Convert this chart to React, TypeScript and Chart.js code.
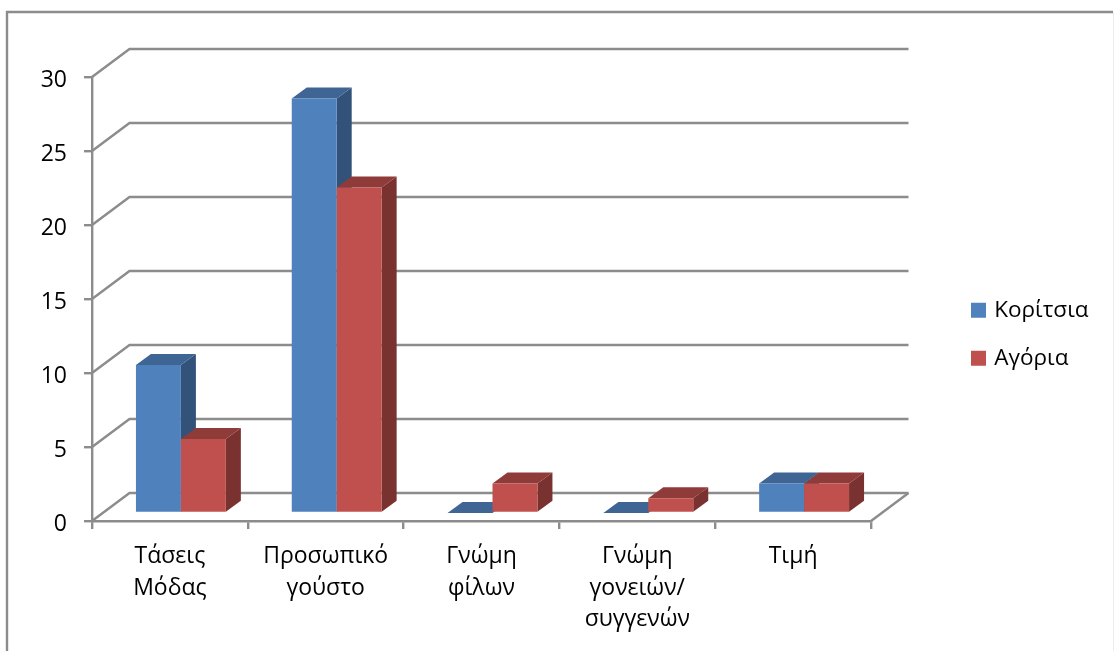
import React, { useEffect, useRef } from "react";
import { Chart, registerables } from "chart.js";

Chart.register(...registerables);

const categories = [["Τάσεις", "Μόδας"], ["Προσωπικό", "γούστο"], ["Γνώμη", "φίλων"], ["Γνώμη", "γονειών/", "συγγενών"], ["Τιμή"]];
const girls = [10, 28, 0, 0, 2];
const boys = [5, 22, 2, 1, 2];
const yTicks = { min: 0, max: 30, step: 5 };

const GRID = "#8c8c8c";
const LINE = 2.4;
const FONT = "'Open Sans', 'Noto Sans', sans-serif";
const WALL = { dx: 37.5, dy: -28 };
const BAR_SHIFT = { dx: 11, dy: -8 };
const BAR_DEPTH = { dx: 15, dy: -11 };
const FACES = [
  { side: "#325279", top: "#3e6594" },
  { side: "#7a3230", top: "#8f3b39" },
];

const poly = (ctx: CanvasRenderingContext2D, pts: number[][], fill: string) => {
  ctx.beginPath();
  pts.forEach(([x, y], i) => (i ? ctx.lineTo(x, y) : ctx.moveTo(x, y)));
  ctx.closePath();
  ctx.fillStyle = fill;
  ctx.fill();
};

const threeD = {
  id: "threeD",
  beforeDraw(chart: any) {
    const { ctx, width, height } = chart;
    ctx.save();
    ctx.fillStyle = "#fff";
    ctx.fillRect(0, 0, width, height);
    ctx.strokeStyle = "#ececec";
    ctx.lineWidth = 1;
    ctx.beginPath();
    ctx.moveTo(width - 0.5, 12);
    ctx.lineTo(width - 0.5, height);
    ctx.stroke();
    ctx.strokeStyle = GRID;
    ctx.lineWidth = LINE;
    ctx.beginPath();
    ctx.moveTo(7, height);
    ctx.lineTo(7, 12);
    ctx.lineTo(width - 1, 12);
    ctx.stroke();
    ctx.restore();
  },
  afterLayout(chart: any) {
    const lg = chart.legend;
    lg.left = 948.5;
    lg.right = 1114;
    lg.top = 273.5;
    lg.bottom = 420;
  },
  beforeDatasetsDraw(chart: any) {
    const { ctx, chartArea, scales } = chart;
    ctx.save();
    ctx.strokeStyle = GRID;
    ctx.lineWidth = LINE;
    scales.y.ticks.forEach((_: any, i: number) => {
      const y = scales.y.getPixelForTick(i);
      ctx.beginPath();
      ctx.moveTo(chartArea.left, y);
      ctx.lineTo(chartArea.left + WALL.dx, y + WALL.dy);
      ctx.lineTo(chartArea.right + WALL.dx, y + WALL.dy);
      ctx.stroke();
    });
    ctx.beginPath();
    ctx.moveTo(chartArea.right + WALL.dx, chartArea.bottom + WALL.dy);
    ctx.lineTo(chartArea.right, chartArea.bottom);
    ctx.stroke();
    ctx.translate(BAR_SHIFT.dx, BAR_SHIFT.dy);
    // Back-to-front painting: first series first, so the next series' faces cover its side.
    chart.data.datasets.forEach((_: any, index: number) => {
      const meta = chart.getDatasetMeta(index);
      const face = FACES[index];
      meta.data.forEach((el: any) => {
        const l = el.x - el.width / 2;
        const r = el.x + el.width / 2;
        const d = BAR_DEPTH;
        poly(ctx, [[r, el.y], [r + d.dx, el.y + d.dy], [r + d.dx, el.base + d.dy], [r, el.base]], face.side);
        poly(ctx, [[l, el.y], [l + d.dx, el.y + d.dy], [r + d.dx, el.y + d.dy], [r, el.y]], face.top);
      });
      meta.controller.draw();
    });
    ctx.restore();
  },
  beforeDatasetDraw() {
    return false;
  },
};

export default function App() {
  const ref = useRef<HTMLCanvasElement>(null);
  useEffect(() => {
    document.body.style.margin = "0";
    const chart = new Chart(ref.current!, {
      type: "bar",
      plugins: [threeD],
      data: {
        labels: categories,
        datasets: [
          { label: "Κορίτσια", data: girls, backgroundColor: "#4f81bd" },
          { label: "Αγόρια", data: boys, backgroundColor: "#c0504d" },
        ],
      } as any,
      options: {
        responsive: false,
        animation: false,
        layout: { padding: { top: 77, right: 243, left: 0, bottom: 0 } },
        datasets: { bar: { categoryPercentage: 0.577, barPercentage: 1 } },
        plugins: {
          tooltip: { enabled: false },
          legend: {
            position: "chartArea",
            align: "start",
            labels: {
              boxWidth: 9,
              boxHeight: 9,
              padding: 25.5,
              color: "#000",
              font: { family: FONT, size: 22.5 },
              generateLabels: (chart: any) =>
                Chart.defaults.plugins.legend.labels.generateLabels(chart).map((item: any) => ({
                  ...item,
                  strokeStyle: item.fillStyle,
                  lineWidth: 6,
                })),
            },
          },
        },
        scales: {
          x: {
            afterFit: (s: any) => { s.height = 130; },
            border: { color: GRID, width: LINE },
            grid: { drawOnChartArea: false, color: GRID, lineWidth: LINE, tickLength: 8 },
            ticks: {
              color: "#000",
              maxRotation: 0,
              autoSkip: false,
              padding: 11,
              font: { family: FONT, size: 23, lineHeight: 1.39 },
            },
          },
          y: {
            min: yTicks.min,
            max: yTicks.max,
            afterFit: (s: any) => { s.width = 92; },
            border: { color: GRID, width: LINE },
            grid: { drawOnChartArea: false, color: GRID, lineWidth: LINE, tickLength: 8 },
            ticks: {
              stepSize: yTicks.step,
              color: "#000",
              padding: 17,
              labelOffset: 3,
              font: { family: FONT, size: 23 },
            },
          },
        },
      } as any,
    });
    return () => chart.destroy();
  }, []);
  return <canvas ref={ref} width={1114} height={651} style={{ display: "block" }} />;
}
